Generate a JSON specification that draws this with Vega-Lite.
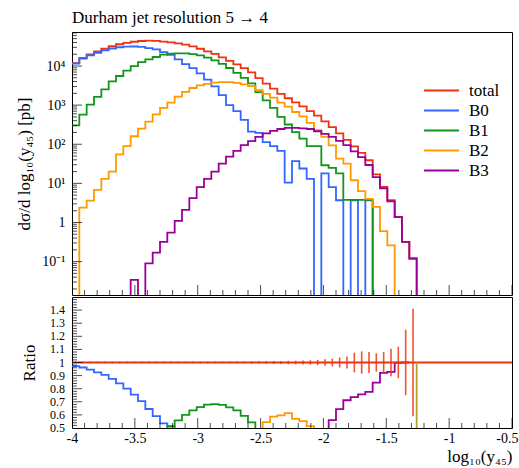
{
 "$schema": "https://vega.github.io/schema/vega-lite/v6.json",
 "padding": {"left": 15, "top": 8, "right": 6, "bottom": 6},
 "config": {
  "font": "Liberation Serif",
  "view": {"stroke": "#000", "strokeWidth": 1},
  "axis": {"domain": false, "grid": false, "ticks": false, "labelFont": "Liberation Serif", "titleFont": "Liberation Serif", "labelFontSize": 14, "titleFontSize": 17, "titleFontWeight": "normal", "labelColor": "#000", "titleColor": "#000", "labelOverlap": false, "labelFlush": false, "labelBound": false},
  "title": {"font": "Liberation Serif", "fontWeight": "normal", "fontSize": 17, "color": "#000"},
  "legend": {"labelFont": "Liberation Serif"},
  "tick": {"color": "#000", "thickness": 1}
 },
 "datasets": {
  "h": [
   {"x": -4.0, "total": 11900, "B0": 11600, "B1": 305, "B2": 0.001, "B3": 0.001},
   {"x": -3.9417, "total": 16000, "B0": 15400, "B1": 573, "B2": 2.4, "B3": 0.001},
   {"x": -3.8833, "total": 19800, "B0": 18700, "B1": 1030, "B2": 3.6, "B3": 0.001},
   {"x": -3.825, "total": 23600, "B0": 21800, "B1": 1620, "B2": 6.8, "B3": 0.001},
   {"x": -3.7667, "total": 27600, "B0": 25000, "B1": 2530, "B2": 13, "B3": 0.001},
   {"x": -3.7083, "total": 32000, "B0": 28000, "B1": 4050, "B2": 20, "B3": 0.001},
   {"x": -3.65, "total": 36000, "B0": 30200, "B1": 5550, "B2": 55, "B3": 0.001},
   {"x": -3.5917, "total": 39000, "B0": 31200, "B1": 7590, "B2": 90, "B3": 0.001},
   {"x": -3.5333, "total": 41700, "B0": 31500, "B1": 9980, "B2": 160, "B3": 0.034},
   {"x": -3.475, "total": 43600, "B0": 30700, "B1": 12600, "B2": 250, "B3": 0.001},
   {"x": -3.4167, "total": 44500, "B0": 28700, "B1": 14700, "B2": 380, "B3": 0.09},
   {"x": -3.3583, "total": 44000, "B0": 26500, "B1": 17000, "B2": 580, "B3": 0.17},
   {"x": -3.3, "total": 42000, "B0": 22700, "B1": 19500, "B2": 850, "B3": 0.32},
   {"x": -3.2417, "total": 40000, "B0": 19400, "B1": 20700, "B2": 1160, "B3": 0.55},
   {"x": -3.1833, "total": 37800, "B0": 14800, "B1": 21100, "B2": 1650, "B3": 1.1},
   {"x": -3.125, "total": 35000, "B0": 11200, "B1": 21000, "B2": 2170, "B3": 2.1},
   {"x": -3.0667, "total": 31700, "B0": 8870, "B1": 20200, "B2": 2740, "B3": 4.2},
   {"x": -3.0083, "total": 27600, "B0": 6500, "B1": 18700, "B2": 3200, "B3": 8},
   {"x": -2.95, "total": 23600, "B0": 4500, "B1": 16400, "B2": 3500, "B3": 13},
   {"x": -2.8917, "total": 20500, "B0": 3000, "B1": 14000, "B2": 3750, "B3": 20},
   {"x": -2.8333, "total": 16700, "B0": 1800, "B1": 11300, "B2": 3850, "B3": 32},
   {"x": -2.775, "total": 13600, "B0": 1000, "B1": 8900, "B2": 3850, "B3": 48},
   {"x": -2.7167, "total": 11000, "B0": 700, "B1": 6700, "B2": 3700, "B3": 68},
   {"x": -2.6583, "total": 8800, "B0": 420, "B1": 5000, "B2": 3400, "B3": 95},
   {"x": -2.6, "total": 6900, "B0": 210, "B1": 3600, "B2": 3050, "B3": 120},
   {"x": -2.5417, "total": 4900, "B0": 195, "B1": 2150, "B2": 2400, "B3": 155},
   {"x": -2.4833, "total": 3550, "B0": 113, "B1": 1320, "B2": 1930, "B3": 190},
   {"x": -2.425, "total": 2650, "B0": 90, "B1": 850, "B2": 1560, "B3": 220},
   {"x": -2.3667, "total": 1950, "B0": 68, "B1": 500, "B2": 1160, "B3": 245},
   {"x": -2.3083, "total": 1500, "B0": 10.5, "B1": 320, "B2": 920, "B3": 262},
   {"x": -2.25, "total": 1170, "B0": 37, "B1": 204, "B2": 667, "B3": 262},
   {"x": -2.1917, "total": 930, "B0": 24, "B1": 140, "B2": 514, "B3": 255},
   {"x": -2.1333, "total": 700, "B0": 13, "B1": 90, "B2": 350, "B3": 245},
   {"x": -2.075, "total": 540, "B0": 0.001, "B1": 90, "B2": 230, "B3": 215},
   {"x": -2.0167, "total": 385, "B0": 18, "B1": 29, "B2": 154, "B3": 185},
   {"x": -1.9583, "total": 275, "B0": 8, "B1": 25, "B2": 94, "B3": 155},
   {"x": -1.9, "total": 190, "B0": 3.7, "B1": 18, "B2": 43, "B3": 122},
   {"x": -1.8417, "total": 130, "B0": 0.001, "B1": 3.8, "B2": 32, "B3": 95},
   {"x": -1.7833, "total": 88, "B0": 3.7, "B1": 3.8, "B2": 12, "B3": 66},
   {"x": -1.725, "total": 60, "B0": 0.001, "B1": 3.8, "B2": 6.3, "B3": 47},
   {"x": -1.6667, "total": 39, "B0": 3.7, "B1": 3.8, "B2": 4, "B3": 29.5},
   {"x": -1.6083, "total": 17, "B0": 0.001, "B1": 0.001, "B2": 2.5, "B3": 14.5},
   {"x": -1.55, "total": 8.1, "B0": 0.001, "B1": 0.001, "B2": 0.6, "B3": 7.5},
   {"x": -1.4917, "total": 3.7, "B0": 0.001, "B1": 0.001, "B2": 0.26, "B3": 3.45},
   {"x": -1.4333, "total": 1.38, "B0": 0.001, "B1": 0.001, "B2": 0.001, "B3": 1.37},
   {"x": -1.375, "total": 0.32, "B0": 0.001, "B1": 0.001, "B2": 0.001, "B3": 0.32},
   {"x": -1.3167, "total": 0.12, "B0": 0.001, "B1": 0.001, "B2": 0.001, "B3": 0.12},
   {"x": -1.2583, "total": 0.001, "B0": 0.001, "B1": 0.001, "B2": 0.001, "B3": 0.001}
  ],
  "r": [
   {"x": -4.0, "B0": 0.973, "B1": null, "B2": null, "B3": null},
   {"x": -3.9417, "B0": 0.962, "B1": null, "B2": null, "B3": null},
   {"x": -3.8833, "B0": 0.945, "B1": null, "B2": null, "B3": null},
   {"x": -3.825, "B0": 0.925, "B1": null, "B2": null, "B3": null},
   {"x": -3.7667, "B0": 0.905, "B1": null, "B2": null, "B3": null},
   {"x": -3.7083, "B0": 0.875, "B1": null, "B2": null, "B3": null},
   {"x": -3.65, "B0": 0.84, "B1": null, "B2": null, "B3": null},
   {"x": -3.5917, "B0": 0.8, "B1": null, "B2": null, "B3": null},
   {"x": -3.5333, "B0": 0.755, "B1": null, "B2": null, "B3": null},
   {"x": -3.475, "B0": 0.705, "B1": null, "B2": null, "B3": null},
   {"x": -3.4167, "B0": 0.645, "B1": null, "B2": null, "B3": null},
   {"x": -3.3583, "B0": 0.59, "B1": 0.39, "B2": null, "B3": null},
   {"x": -3.3, "B0": 0.535, "B1": 0.46, "B2": null, "B3": null},
   {"x": -3.2417, "B0": 0.51, "B1": 0.515, "B2": null, "B3": null},
   {"x": -3.1833, "B0": 0.39, "B1": 0.558, "B2": null, "B3": null},
   {"x": -3.125, "B0": 0.32, "B1": 0.6, "B2": null, "B3": null},
   {"x": -3.0667, "B0": null, "B1": 0.635, "B2": null, "B3": null},
   {"x": -3.0083, "B0": null, "B1": 0.66, "B2": null, "B3": null},
   {"x": -2.95, "B0": null, "B1": 0.678, "B2": null, "B3": null},
   {"x": -2.8917, "B0": null, "B1": 0.683, "B2": null, "B3": null},
   {"x": -2.8333, "B0": null, "B1": 0.676, "B2": null, "B3": null},
   {"x": -2.775, "B0": null, "B1": 0.658, "B2": null, "B3": null},
   {"x": -2.7167, "B0": null, "B1": 0.635, "B2": null, "B3": null},
   {"x": -2.6583, "B0": null, "B1": 0.592, "B2": null, "B3": null},
   {"x": -2.6, "B0": null, "B1": 0.543, "B2": 0.44, "B3": null},
   {"x": -2.5417, "B0": null, "B1": 0.44, "B2": 0.49, "B3": null},
   {"x": -2.4833, "B0": null, "B1": 0.37, "B2": 0.545, "B3": null},
   {"x": -2.425, "B0": null, "B1": null, "B2": 0.587, "B3": null},
   {"x": -2.3667, "B0": null, "B1": null, "B2": 0.597, "B3": null},
   {"x": -2.3083, "B0": null, "B1": null, "B2": 0.613, "B3": null},
   {"x": -2.25, "B0": null, "B1": null, "B2": 0.57, "B3": null},
   {"x": -2.1917, "B0": null, "B1": null, "B2": 0.553, "B3": null},
   {"x": -2.1333, "B0": null, "B1": null, "B2": 0.515, "B3": 0.35},
   {"x": -2.075, "B0": null, "B1": null, "B2": 0.43, "B3": 0.4},
   {"x": -2.0167, "B0": null, "B1": null, "B2": 0.4, "B3": 0.49},
   {"x": -1.9583, "B0": null, "B1": null, "B2": null, "B3": 0.56},
   {"x": -1.9, "B0": null, "B1": null, "B2": null, "B3": 0.644},
   {"x": -1.8417, "B0": null, "B1": null, "B2": null, "B3": 0.712},
   {"x": -1.7833, "B0": null, "B1": null, "B2": null, "B3": 0.735},
   {"x": -1.725, "B0": null, "B1": null, "B2": null, "B3": 0.756},
   {"x": -1.6667, "B0": null, "B1": null, "B2": null, "B3": 0.776},
   {"x": -1.6083, "B0": null, "B1": null, "B2": null, "B3": 0.847},
   {"x": -1.55, "B0": null, "B1": null, "B2": null, "B3": 0.921},
   {"x": -1.4917, "B0": null, "B1": null, "B2": null, "B3": 0.928},
   {"x": -1.4333, "B0": null, "B1": null, "B2": null, "B3": 0.998},
   {"x": -1.375, "B0": null, "B1": null, "B2": null, "B3": 1.0},
   {"x": -1.3167, "B0": null, "B1": null, "B2": null, "B3": 1.0},
   {"x": -1.2583, "B0": null, "B1": null, "B2": null, "B3": null}
  ],
  "e": [
   {"c": -3.9708, "lo": 0.993, "hi": 1.007}, {"c": -3.9125, "lo": 0.993, "hi": 1.007},
   {"c": -3.8542, "lo": 0.993, "hi": 1.007}, {"c": -3.7958, "lo": 0.993, "hi": 1.007},
   {"c": -3.7375, "lo": 0.993, "hi": 1.007}, {"c": -3.6792, "lo": 0.993, "hi": 1.007},
   {"c": -3.6208, "lo": 0.993, "hi": 1.007}, {"c": -3.5625, "lo": 0.993, "hi": 1.007},
   {"c": -3.5042, "lo": 0.993, "hi": 1.007}, {"c": -3.4458, "lo": 0.993, "hi": 1.007},
   {"c": -3.3875, "lo": 0.993, "hi": 1.007}, {"c": -3.3292, "lo": 0.993, "hi": 1.007},
   {"c": -3.2708, "lo": 0.993, "hi": 1.007}, {"c": -3.2125, "lo": 0.993, "hi": 1.007},
   {"c": -3.1542, "lo": 0.993, "hi": 1.007}, {"c": -3.0958, "lo": 0.993, "hi": 1.007},
   {"c": -3.0375, "lo": 0.993, "hi": 1.007}, {"c": -2.9792, "lo": 0.993, "hi": 1.007},
   {"c": -2.9208, "lo": 0.993, "hi": 1.007}, {"c": -2.8625, "lo": 0.993, "hi": 1.007},
   {"c": -2.8042, "lo": 0.993, "hi": 1.007}, {"c": -2.7458, "lo": 0.993, "hi": 1.007},
   {"c": -2.6875, "lo": 0.993, "hi": 1.007}, {"c": -2.6292, "lo": 0.993, "hi": 1.007},
   {"c": -2.5708, "lo": 0.991, "hi": 1.009}, {"c": -2.5125, "lo": 0.99, "hi": 1.01},
   {"c": -2.4542, "lo": 0.99, "hi": 1.01}, {"c": -2.3958, "lo": 0.989, "hi": 1.011},
   {"c": -2.3375, "lo": 0.988, "hi": 1.012}, {"c": -2.2792, "lo": 0.987, "hi": 1.013},
   {"c": -2.2208, "lo": 0.986, "hi": 1.014}, {"c": -2.1625, "lo": 0.985, "hi": 1.015},
   {"c": -2.1042, "lo": 0.983, "hi": 1.017}, {"c": -2.0458, "lo": 0.98, "hi": 1.02},
   {"c": -1.9875, "lo": 0.975, "hi": 1.025}, {"c": -1.9292, "lo": 0.97, "hi": 1.03},
   {"c": -1.8708, "lo": 0.962, "hi": 1.038}, {"c": -1.8125, "lo": 0.955, "hi": 1.045},
   {"c": -1.7542, "lo": 0.925, "hi": 1.075}, {"c": -1.6958, "lo": 0.915, "hi": 1.085},
   {"c": -1.6375, "lo": 0.92, "hi": 1.08}, {"c": -1.5792, "lo": 0.93, "hi": 1.07},
   {"c": -1.5208, "lo": 0.92, "hi": 1.08}, {"c": -1.4625, "lo": 0.895, "hi": 1.105},
   {"c": -1.4042, "lo": 0.88, "hi": 1.12}, {"c": -1.3458, "lo": 0.75, "hi": 1.25},
   {"c": -1.2875, "lo": 0.59, "hi": 1.41}
  ],
  "edge": [{"x": -1.2583, "lo": 0.5, "hi": 1.0}],
  "xmaj": [{"v": -4}, {"v": -3.5}, {"v": -3}, {"v": -2.5}, {"v": -2}, {"v": -1.5}, {"v": -1}, {"v": -0.5}],
  "xmin": [{"v": -3.9}, {"v": -3.8}, {"v": -3.7}, {"v": -3.6}, {"v": -3.4}, {"v": -3.3}, {"v": -3.2}, {"v": -3.1}, {"v": -2.9}, {"v": -2.8}, {"v": -2.7}, {"v": -2.6}, {"v": -2.4}, {"v": -2.3}, {"v": -2.2}, {"v": -2.1}, {"v": -1.9}, {"v": -1.8}, {"v": -1.7}, {"v": -1.6}, {"v": -1.4}, {"v": -1.3}, {"v": -1.2}, {"v": -1.1}, {"v": -0.9}, {"v": -0.8}, {"v": -0.7}, {"v": -0.6}],
  "ymaj": [{"v": 0.1}, {"v": 1}, {"v": 10}, {"v": 100}, {"v": 1000}, {"v": 10000}],
  "ymin": [{"v": 0.02}, {"v": 0.03}, {"v": 0.04}, {"v": 0.05}, {"v": 0.06}, {"v": 0.07}, {"v": 0.08}, {"v": 0.09}, {"v": 0.2}, {"v": 0.3}, {"v": 0.4}, {"v": 0.5}, {"v": 0.6}, {"v": 0.7}, {"v": 0.8}, {"v": 0.9}, {"v": 2}, {"v": 3}, {"v": 4}, {"v": 5}, {"v": 6}, {"v": 7}, {"v": 8}, {"v": 9}, {"v": 20}, {"v": 30}, {"v": 40}, {"v": 50}, {"v": 60}, {"v": 70}, {"v": 80}, {"v": 90}, {"v": 200}, {"v": 300}, {"v": 400}, {"v": 500}, {"v": 600}, {"v": 700}, {"v": 800}, {"v": 900}, {"v": 2000}, {"v": 3000}, {"v": 4000}, {"v": 5000}, {"v": 6000}, {"v": 7000}, {"v": 8000}, {"v": 9000}, {"v": 20000}, {"v": 30000}, {"v": 40000}, {"v": 50000}, {"v": 60000}, {"v": 70000}],
  "rmaj": [{"v": 0.6}, {"v": 0.7}, {"v": 0.8}, {"v": 0.9}, {"v": 1}, {"v": 1.1}, {"v": 1.2}, {"v": 1.3}, {"v": 1.4}],
  "rlab": [{"v": 0.5}, {"v": 0.6}, {"v": 0.7}, {"v": 0.8}, {"v": 0.9}, {"v": 1}, {"v": 1.1}, {"v": 1.2}, {"v": 1.3}, {"v": 1.4}],
  "rmin": [{"v": 0.52}, {"v": 0.54}, {"v": 0.56}, {"v": 0.58}, {"v": 0.62}, {"v": 0.64}, {"v": 0.66}, {"v": 0.68}, {"v": 0.72}, {"v": 0.74}, {"v": 0.76}, {"v": 0.78}, {"v": 0.82}, {"v": 0.84}, {"v": 0.86}, {"v": 0.88}, {"v": 0.92}, {"v": 0.94}, {"v": 0.96}, {"v": 0.98}, {"v": 1.02}, {"v": 1.04}, {"v": 1.06}, {"v": 1.08}, {"v": 1.12}, {"v": 1.14}, {"v": 1.16}, {"v": 1.18}, {"v": 1.22}, {"v": 1.24}, {"v": 1.26}, {"v": 1.28}, {"v": 1.32}, {"v": 1.34}, {"v": 1.36}, {"v": 1.38}, {"v": 1.42}, {"v": 1.44}, {"v": 1.46}, {"v": 1.48}]
 },
 "spacing": 0,
 "resolve": {"scale": {"color": "independent"}, "legend": {"color": "independent"}},
 "vconcat": [
  {
   "width": 440, "height": 263,
   "title": {"text": "Durham jet resolution 5 → 4", "anchor": "start", "frame": "group", "offset": 5},
   "layer": [
    {"data": {"name": "h"},
     "mark": {"type": "line", "interpolate": "step-after", "clip": true, "strokeWidth": 1.8},
     "encoding": {
      "x": {"field": "x", "type": "quantitative", "scale": {"domain": [-4, -0.5], "nice": false, "zero": false}, "title": null,
            "axis": {"values": [-4, -3.5, -3, -2.5, -2, -1.5, -1, -0.5], "labels": false, "labelPadding": 0, "labelOverlap": false}},
      "y": {"field": "total", "type": "quantitative", "scale": {"type": "log", "domain": [0.014, 74000], "nice": false},
            "title": "dσ/d log₁₀(y₄₅) [pb]",
            "axis": {"values": [0.1, 1, 10, 100, 1000, 10000], "labelOverlap": false,
                     "labelExpr": "datum.value==10000?'10⁴':datum.value==1000?'10³':datum.value==100?'10²':datum.value==10?'10¹':datum.value==1?'1':'10⁻¹'",
                     "labelPadding": 7, "titlePadding": 8}},
      "color": {"datum": "total", "type": "nominal",
                "scale": {"domain": ["total", "B0", "B1", "B2", "B3"], "range": ["#EE3311", "#3366FF", "#109618", "#FF9900", "#990099"]},
                "legend": {"title": null, "orient": "none", "legendX": 361, "legendY": 50, "symbolType": "M-2.5,0H2.5", "symbolSize": 196, "symbolStrokeWidth": 2, "labelFontSize": 17, "labelFont": "Liberation Serif", "rowPadding": 2, "labelOffset": 19, "padding": 0}}
     }},
    {"data": {"name": "h"},
     "mark": {"type": "line", "interpolate": "step-after", "clip": true, "strokeWidth": 1.8},
     "encoding": {
      "x": {"field": "x", "type": "quantitative", "title": null},
      "y": {"field": "B0", "type": "quantitative", "title": "dσ/d log₁₀(y₄₅) [pb]"},
      "color": {"datum": "B0", "type": "nominal"}
     }},
    {"data": {"name": "h"},
     "mark": {"type": "line", "interpolate": "step-after", "clip": true, "strokeWidth": 1.8},
     "encoding": {
      "x": {"field": "x", "type": "quantitative", "title": null},
      "y": {"field": "B1", "type": "quantitative", "title": "dσ/d log₁₀(y₄₅) [pb]"},
      "color": {"datum": "B1", "type": "nominal"}
     }},
    {"data": {"name": "h"},
     "mark": {"type": "line", "interpolate": "step-after", "clip": true, "strokeWidth": 1.8},
     "encoding": {
      "x": {"field": "x", "type": "quantitative", "title": null},
      "y": {"field": "B2", "type": "quantitative", "title": "dσ/d log₁₀(y₄₅) [pb]"},
      "color": {"datum": "B2", "type": "nominal"}
     }},
    {"data": {"name": "h"},
     "mark": {"type": "line", "interpolate": "step-after", "clip": true, "strokeWidth": 1.8},
     "encoding": {
      "x": {"field": "x", "type": "quantitative", "title": null},
      "y": {"field": "B3", "type": "quantitative", "title": "dσ/d log₁₀(y₄₅) [pb]"},
      "color": {"datum": "B3", "type": "nominal"}
     }},
    {"data": {"name": "xmaj"},
     "mark": {"type": "tick", "orient": "vertical", "size": 20, "clip": true},
     "encoding": {"x": {"field": "v", "type": "quantitative", "title": null}, "y": {"datum": 0.014, "type": "quantitative", "title": "dσ/d log₁₀(y₄₅) [pb]"}}},
    {"data": {"name": "xmin"},
     "mark": {"type": "tick", "orient": "vertical", "size": 10, "clip": true},
     "encoding": {"x": {"field": "v", "type": "quantitative", "title": null}, "y": {"datum": 0.014, "type": "quantitative", "title": "dσ/d log₁₀(y₄₅) [pb]"}}},
    {"data": {"name": "ymaj"},
     "mark": {"type": "tick", "orient": "horizontal", "size": 20, "clip": true},
     "encoding": {"y": {"field": "v", "type": "quantitative", "title": "dσ/d log₁₀(y₄₅) [pb]"}, "x": {"datum": -4, "type": "quantitative", "title": null}}},
    {"data": {"name": "ymin"},
     "mark": {"type": "tick", "orient": "horizontal", "size": 10, "clip": true},
     "encoding": {"y": {"field": "v", "type": "quantitative", "title": "dσ/d log₁₀(y₄₅) [pb]"}, "x": {"datum": -4, "type": "quantitative", "title": null}}}
   ]
  },
  {
   "width": 440, "height": 131,
   "layer": [
    {"data": {"name": "r"},
     "mark": {"type": "line", "interpolate": "step-after", "clip": true, "strokeWidth": 1.8, "color": "#3366FF"},
     "encoding": {
      "x": {"field": "x", "type": "quantitative", "scale": {"domain": [-4, -0.5], "nice": false, "zero": false},
            "title": "log₁₀(y₄₅)",
            "axis": {"values": [-4, -3.5, -3, -2.5, -2, -1.5, -1, -0.5], "labelOverlap": false,
                     "labelExpr": "replace(format(datum.value,'~g'),'−','-')",
                     "labelFlush": true, "labelFlushOffset": 6,
                     "labelPadding": 3, "titleAnchor": "end", "titlePadding": 3}},
      "y": {"field": "B0", "type": "quantitative", "scale": {"domain": [0.5, 1.5], "nice": false, "zero": false},
            "title": "Ratio",
            "axis": {"values": [0.5, 0.6, 0.7, 0.8, 0.9, 1, 1.1, 1.2, 1.3, 1.4], "labels": false, "titlePadding": 34}}
     }},
    {"data": {"name": "r"},
     "mark": {"type": "line", "interpolate": "step-after", "clip": true, "strokeWidth": 1.8, "color": "#109618"},
     "encoding": {
      "x": {"field": "x", "type": "quantitative", "title": "log₁₀(y₄₅)"},
      "y": {"field": "B1", "type": "quantitative", "title": "Ratio"}
     }},
    {"data": {"name": "r"},
     "mark": {"type": "line", "interpolate": "step-after", "clip": true, "strokeWidth": 1.8, "color": "#FF9900"},
     "encoding": {
      "x": {"field": "x", "type": "quantitative", "title": "log₁₀(y₄₅)"},
      "y": {"field": "B2", "type": "quantitative", "title": "Ratio"}
     }},
    {"data": {"name": "r"},
     "mark": {"type": "line", "interpolate": "step-after", "clip": true, "strokeWidth": 1.8, "color": "#990099"},
     "encoding": {
      "x": {"field": "x", "type": "quantitative", "title": "log₁₀(y₄₅)"},
      "y": {"field": "B3", "type": "quantitative", "title": "Ratio"}
     }},
    {"data": {"values": [{}]},
     "mark": {"type": "rule", "color": "#EE3311", "strokeWidth": 2},
     "encoding": {"y": {"datum": 1, "type": "quantitative", "title": "Ratio"}}},
    {"data": {"name": "e"},
     "mark": {"type": "rule", "color": "#EE3311", "strokeWidth": 1.6, "opacity": 0.85, "clip": true},
     "encoding": {
      "x": {"field": "c", "type": "quantitative", "title": "log₁₀(y₄₅)"},
      "y": {"field": "lo", "type": "quantitative", "title": "Ratio"},
      "y2": {"field": "hi"}
     }},
    {"data": {"name": "edge"},
     "mark": {"type": "rule", "color": "#B5A22E", "strokeWidth": 1.8},
     "encoding": {
      "x": {"field": "x", "type": "quantitative", "title": "log₁₀(y₄₅)"},
      "y": {"field": "lo", "type": "quantitative", "title": "Ratio"},
      "y2": {"field": "hi"}
     }},
    {"data": {"name": "xmaj"},
     "mark": {"type": "tick", "orient": "vertical", "size": 20, "clip": true},
     "encoding": {"x": {"field": "v", "type": "quantitative", "title": "log₁₀(y₄₅)"}, "y": {"datum": 0.5, "type": "quantitative", "title": "Ratio"}}},
    {"data": {"name": "xmin"},
     "mark": {"type": "tick", "orient": "vertical", "size": 10, "clip": true},
     "encoding": {"x": {"field": "v", "type": "quantitative", "title": "log₁₀(y₄₅)"}, "y": {"datum": 0.5, "type": "quantitative", "title": "Ratio"}}},
    {"data": {"name": "rmaj"},
     "mark": {"type": "tick", "orient": "horizontal", "size": 20, "clip": true},
     "encoding": {"y": {"field": "v", "type": "quantitative", "title": "Ratio"}, "x": {"datum": -4, "type": "quantitative", "title": "log₁₀(y₄₅)"}}},
    {"data": {"name": "rmin"},
     "mark": {"type": "tick", "orient": "horizontal", "size": 10, "clip": true},
     "encoding": {"y": {"field": "v", "type": "quantitative", "title": "Ratio"}, "x": {"datum": -4, "type": "quantitative", "title": "log₁₀(y₄₅)"}}},
    {"data": {"name": "rlab"},
     "mark": {"type": "text", "align": "right", "baseline": "middle", "dx": -7, "fontSize": 12, "font": "Liberation Serif", "color": "#000"},
     "encoding": {
      "y": {"field": "v", "type": "quantitative", "title": "Ratio"},
      "x": {"datum": -4, "type": "quantitative", "title": "log₁₀(y₄₅)"},
      "text": {"field": "v", "type": "quantitative", "format": "~g"}
     }}
   ]
  }
 ]
}
